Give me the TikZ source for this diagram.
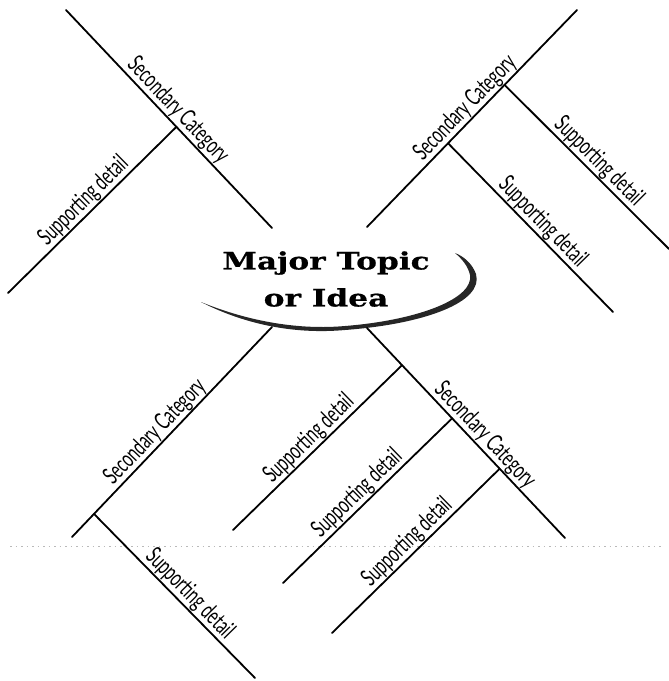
\documentclass[tikz,border=0pt]{standalone}
\usepackage{fontspec}
\usetikzlibrary{calc}
\newfontfamily\labfont[FakeStretch=0.64]{Lato}
\newfontfamily\topicfont[FakeStretch=1.3,FakeBold=0.6]{DejaVu Serif}
\begin{document}
\begin{tikzpicture}[x=1pt,y=-1pt,
  branch/.style={line width=1.8pt, line cap=round},
  lab/.style={font=\labfont\fontsize{24}{24}\selectfont, sloped, above, inner sep=1pt},
  scanline/.style={gray!55, line width=0.6pt, dash pattern=on 1.5pt off 4pt}]
\useasboundingbox (0,0) rectangle (669,681);
% faint scan line
\coordinate (sl1) at (10,546);
\coordinate (sl2) at (662,546);
\draw[scanline] (sl1) -- (sl2);
% central oval stroke
\fill[black!85] (201,302) .. controls (250,327) and (300,334) .. (345,330)
   .. controls (425,324) and (484,302) .. (476,274)
   .. controls (472,263) and (463,256) .. (455,253)
   .. controls (462,259) and (468,266) .. (470,275)
   .. controls (474,298) and (420,320) .. (345,326)
   .. controls (300,330) and (250,322) .. (201,302) -- cycle;
\node[font=\topicfont\bfseries\fontsize{24}{37}\selectfont, align=center] (topic) at (326,279) {Major Topic\\or Idea};
% top-left branch
\coordinate (tlA) at (66,10);
\coordinate (tlB) at (272,228);
\coordinate (tlJ) at ($(tlA)!0.536!(tlB)$);
\coordinate (tlE) at (8,293);
\draw[branch] (tlA) -- (tlB);
\draw[branch] (tlJ) -- (tlE);
\path (tlA) -- (tlB) node[lab, pos=0.5] (tlsec) {Secondary Category};
\path (tlJ) -- (tlE) node[lab, pos=0.5] (tlsup) {Supporting detail};
% top-right branch
\coordinate (trA) at (367,227);
\coordinate (trB) at (577,10);
\coordinate (trJ1) at ($(trA)!0.655!(trB)$);
\coordinate (trJ2) at ($(trA)!0.386!(trB)$);
\coordinate (trE1) at (669,249);
\coordinate (trE2) at (613,312);
\draw[branch] (trA) -- (trB);
\draw[branch] (trJ1) -- (trE1);
\draw[branch] (trJ2) -- (trE2);
\path (trA) -- (trB) node[lab, pos=0.51] (trsec) {Secondary Category};
\path (trJ1) -- (trE1) node[lab, pos=0.52] (trsup1) {Supporting detail};
\path (trJ2) -- (trE2) node[lab, pos=0.52] (trsup2) {Supporting detail};
% bottom-left branch
\coordinate (blA) at (272,327);
\coordinate (blB) at (72,537);
\coordinate (blJ) at ($(blA)!0.89!(blB)$);
\coordinate (blE) at (255,678);
\draw[branch] (blA) -- (blB);
\draw[branch] (blJ) -- (blE);
\path (blA) -- (blB) node[lab, pos=0.54] (blsec) {Secondary Category};
\path (blJ) -- (blE) node[lab, pos=0.54] (blsup) {Supporting detail};
% bottom-right branch
\coordinate (brA) at (367,328);
\coordinate (brB) at (565,538);
\coordinate (brJ1) at ($(brA)!0.177!(brB)$);
\coordinate (brJ2) at ($(brA)!0.43!(brB)$);
\coordinate (brJ3) at ($(brA)!0.67!(brB)$);
\coordinate (brE1) at (233,530);
\coordinate (brE2) at (283,583);
\coordinate (brE3) at (332,633);
\draw[branch] (brA) -- (brB);
\draw[branch] (brJ1) -- (brE1);
\draw[branch] (brJ2) -- (brE2);
\draw[branch] (brJ3) -- (brE3);
\path (brA) -- (brB) node[lab, pos=0.55] (brsec) {Secondary Category};
\path (brJ1) -- (brE1) node[lab, pos=0.5] (brsup1) {Supporting detail};
\path (brJ2) -- (brE2) node[lab, pos=0.51] (brsup2) {Supporting detail};
\path (brJ3) -- (brE3) node[lab, pos=0.5] (brsup3) {Supporting detail};
\end{tikzpicture}
\end{document}
